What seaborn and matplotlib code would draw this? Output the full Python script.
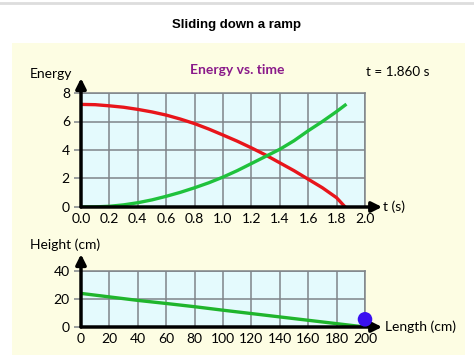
import matplotlib
matplotlib.use("Agg")
import matplotlib.pyplot as plt
import seaborn as sns
import pandas as pd
from matplotlib.patches import Rectangle
from matplotlib.lines import Line2D

# energy vs time
time_s = [0.0, 0.1, 0.2, 0.3, 0.4, 0.5, 0.6, 0.7, 0.8, 0.9, 1.0,
          1.1, 1.2, 1.3, 1.4, 1.5, 1.6, 1.7, 1.8, 1.86]
potential = [7.2, 7.18, 7.1, 7.0, 6.85, 6.67, 6.45, 6.17, 5.85, 5.47, 5.05,
             4.62, 4.15, 3.65, 3.1, 2.55, 1.95, 1.35, 0.65, 0.0]
kinetic = [0.0, 0.01, 0.05, 0.15, 0.3, 0.5, 0.75, 1.03, 1.35, 1.7, 2.1,
           2.55, 3.05, 3.55, 4.05, 4.65, 5.35, 6.0, 6.7, 7.15]

# ramp profile
length_cm = [0, 20, 40, 60, 80, 100, 120, 140, 160, 180, 200]
height_cm = [24, 21.5, 19, 16.8, 14.5, 12, 9.6, 7.2, 4.8, 2.4, 0]
ball_x = [200]
ball_y = [5.5]

t_ticks = [0.0, 0.2, 0.4, 0.6, 0.8, 1.0, 1.2, 1.4, 1.6, 1.8, 2.0]
e_ticks = [0, 2, 4, 6, 8]
l_ticks = list(range(0, 201, 20))
h_ticks = [0, 20, 40]

W, H = 474, 359
fig = plt.figure(figsize=(W / 100, H / 100), dpi=100)
lab_font = ['Lato', 'DejaVu Sans']

# page decoration
fig.add_artist(Line2D([0, 1], [1 - 3 / H, 1 - 3 / H], color='#dddddd', lw=2,
                      transform=fig.transFigure, zorder=-2))
fig.add_artist(Rectangle((12 / W, 1 - 355 / H), 453 / W, 312 / H, transform=fig.transFigure,
                         facecolor='#fdfde3', edgecolor='none', zorder=-2))
fig.text(237 / W, 1 - 25 / H, 'Sliding down a ramp', ha='center', va='center',
         fontsize=9.5, fontweight='bold', family='Liberation Sans')

df_e = pd.DataFrame({'t': time_s + time_s,
                     'E': potential + kinetic,
                     'kind': ['PE'] * len(time_s) + ['KE'] * len(time_s)})
df_r = pd.DataFrame({'x': length_cm, 'h': height_cm})

grid_c = '#7f8489'
bg_c = '#e4fafd'
arrow = dict(arrowstyle='-|>,head_width=0.3,head_length=0.6', color='black', lw=2.5,
             shrinkA=0, shrinkB=0)


def style_axes(ax, xt, yt, xlim, ylim):
    ax.set_facecolor(bg_c)
    ax.set_xlim(*xlim)
    ax.set_ylim(*ylim)
    ax.set_xticks(xt)
    ax.set_yticks(yt)
    ax.grid(True, color=grid_c, lw=1.1)
    ax.set_axisbelow(True)
    for s in ['top', 'right']:
        ax.spines[s].set_color(grid_c)
        ax.spines[s].set_linewidth(1.1)
    for s in ['bottom', 'left']:
        ax.spines[s].set_visible(False)
    ax.tick_params(axis='y', length=5, width=1.1, color=grid_c, labelsize=10, pad=3)
    ax.tick_params(axis='x', length=0, labelsize=10, pad=4)
    for lab in ax.get_xticklabels() + ax.get_yticklabels():
        lab.set_family(lab_font)
    ax.set_xlabel('')
    ax.set_ylabel('')


# energy axes
ax1 = fig.add_axes([81 / W, 1 - 207 / H, 284 / W, 114 / H])
sns.lineplot(data=df_e, x='t', y='E', hue='kind', palette={'PE': '#e8151b', 'KE': '#1fc23c'},
             lw=2.4, legend=False, ax=ax1)
style_axes(ax1, t_ticks, e_ticks, (0, 2.0), (0, 8))
ax1.set_xticklabels([f'{v:.1f}' for v in t_ticks], family=lab_font)
ax1.annotate('', xy=(0, 1.13), xytext=(0, 0), xycoords='axes fraction',
             arrowprops=arrow, annotation_clip=False)
ax1.annotate('', xy=(1.06, 0), xytext=(0, 0), xycoords='axes fraction',
             arrowprops=arrow, annotation_clip=False)
ax1.text(1.065, 0, 't (s)', transform=ax1.transAxes, va='center', ha='left', fontsize=10, family=lab_font)
fig.text(30 / W, 1 - 74 / H, 'Energy', va='center', ha='left', fontsize=10, family=lab_font)
fig.text(237 / W, 1 - 70 / H, 'Energy vs. time', va='center', ha='center', fontsize=10,
         fontweight='bold', color='#8a1a8a', family=lab_font)
fig.text(366 / W, 1 - 72 / H, 't = 1.860 s', va='center', ha='left', fontsize=9.7, family=lab_font)

# ramp axes
ax2 = fig.add_axes([81 / W, 1 - 327 / H, 284 / W, 56 / H])
sns.lineplot(data=df_r, x='x', y='h', color='#1fb52c', lw=2.4, ax=ax2)
sns.scatterplot(x=ball_x, y=ball_y, color='#3a10f0', s=110, edgecolor='none', zorder=5, clip_on=False, ax=ax2)
style_axes(ax2, l_ticks, h_ticks, (0, 200), (0, 40))
ax2.annotate('', xy=(0, 1.3), xytext=(0, 0), xycoords='axes fraction',
             arrowprops=arrow, annotation_clip=False)
ax2.annotate('', xy=(1.06, 0), xytext=(0, 0), xycoords='axes fraction',
             arrowprops=arrow, annotation_clip=False)
ax2.text(1.07, 0, 'Length (cm)', transform=ax2.transAxes, va='center', ha='left', fontsize=10, family=lab_font)
fig.text(30 / W, 1 - 245 / H, 'Height (cm)', va='center', ha='left', fontsize=10, family=lab_font)

fig.savefig('out.png', dpi=100)
